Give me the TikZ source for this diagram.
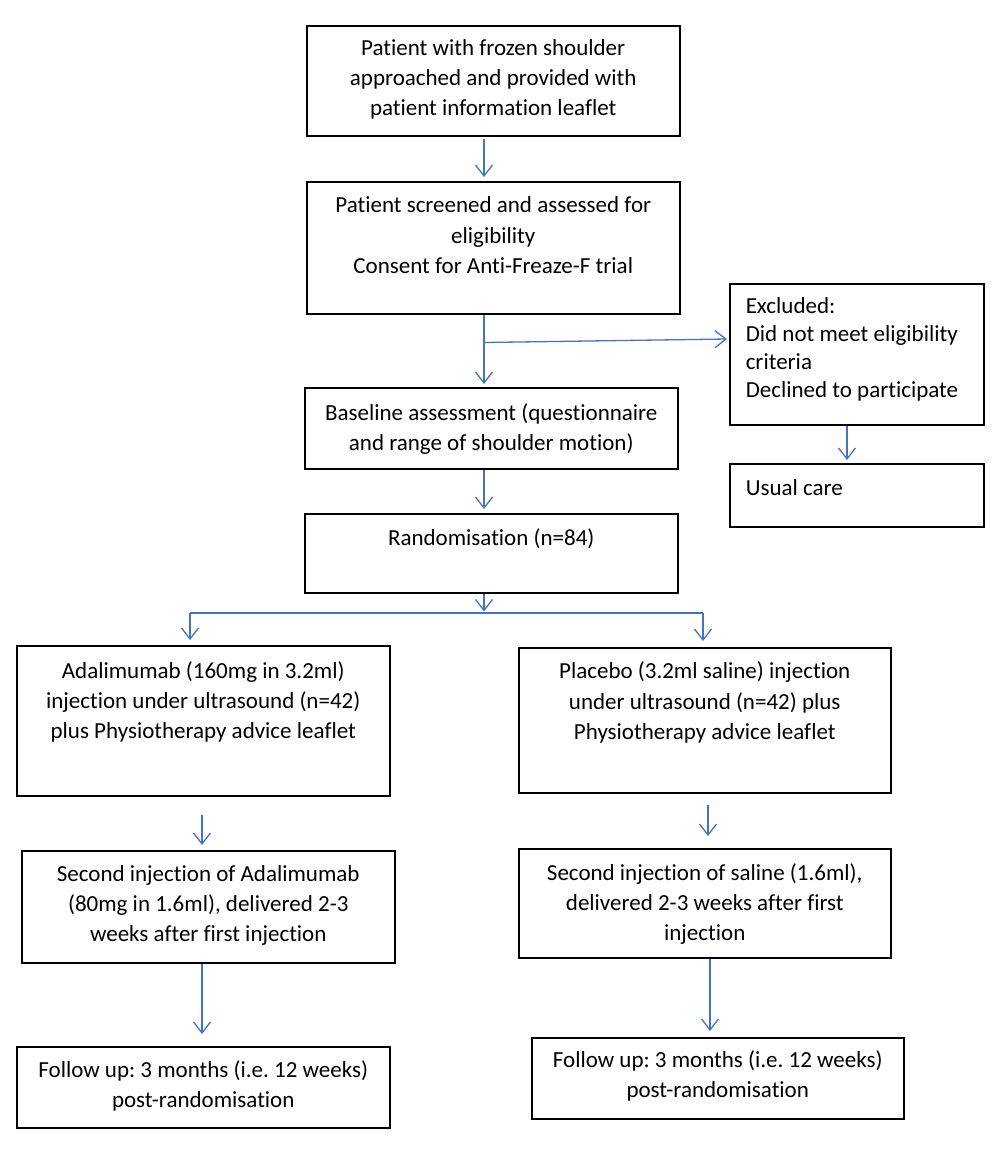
\documentclass[tikz,border=0pt]{standalone}
\usepackage{fontspec}
\setmainfont[Ligatures=NoCommon,RawFeature={-liga;-clig;-calt}]{Carlito}
\frenchspacing
\usetikzlibrary{arrows.meta,calc}
\definecolor{arrblue}{RGB}{68,114,196}
\newcommand{\ctrtext}[5]{\parbox[c][#2pt][t]{#1pt}{\fontsize{23}{#4}\selectfont\frenchspacing\centering\rule{0pt}{#3pt}#5}}
\newcommand{\lfttext}[5]{\parbox[c][#2pt][t]{#1pt}{\fontsize{23}{#4}\selectfont\frenchspacing\raggedright\leftskip=16pt\rule{0pt}{#3pt}#5}}
\tikzset{
  box/.style={draw=black, line width=1.5pt, inner sep=0pt, anchor=north west},
  arr/.style={draw=arrblue, line width=1.3pt, -{Straight Barb[length=11pt,width=17pt,line width=1.3pt]}},
  plain/.style={draw=arrblue, line width=1.3pt},
}
\begin{document}
\begin{tikzpicture}[x=1pt,y=-1pt]
\useasboundingbox (0,0) rectangle (1000,1152);
\node[box] (b1) at (306,25) {\ctrtext{373}{110}{30}{30}{Patient with frozen shoulder\\approached and provided with\\patient information leaflet}};
\node[box] (b2) at (306,181) {\ctrtext{373}{132}{31}{30.5}{Patient screened and assessed for\\eligibility\\Consent for Anti-Freaze-F trial}};
\node[box] (ex) at (729,283) {\lfttext{254}{141}{29.5}{28}{Excluded:\\Did not meet eligibility\\criteria\\Declined to participate}};
\node[box] (uc) at (729,463) {\lfttext{254}{63}{31.5}{28}{Usual care}};
\node[box] (b3) at (304,387) {\ctrtext{373}{81}{32.5}{30}{Baseline assessment (questionnaire\\and range of shoulder motion)}};
\node[box] (b4) at (304,513) {\ctrtext{373}{79}{31.5}{30}{Randomisation (n=84)}};
\node[box] (b5) at (16,645) {\ctrtext{373}{150}{32.5}{30}{Adalimumab (160mg in 3.2ml)\\injection under ultrasound (n=42)\\plus Physiotherapy advice leaflet}};
\node[box] (b6) at (518,647) {\ctrtext{372}{145}{31}{30.5}{Placebo (3.2ml saline) injection\\under ultrasound (n=42) plus\\Physiotherapy advice leaflet}};
\node[box] (b7) at (21,850) {\ctrtext{373}{112}{31}{30}{Second injection of Adalimumab\\(80mg in 1.6ml), delivered 2-3\\weeks after first injection}};
\node[box] (b8) at (518,848) {\ctrtext{372}{109}{31.5}{30}{Second injection of saline (1.6ml),\\delivered 2-3 weeks after first\\injection}};
\node[box] (b9) at (16,1046) {\ctrtext{373}{81}{31}{30}{Follow up: 3 months (i.e. 12 weeks)\\post-randomisation}};
\node[box] (b10) at (531,1037) {\ctrtext{372}{81}{30}{30}{Follow up: 3 months (i.e. 12 weeks)\\post-randomisation}};
% column coordinates for connectors
\coordinate (cM) at (484,0);
\coordinate (cE) at (847,0);
\coordinate (spL) at (190,613);
\coordinate (spR) at (703,613);
\coordinate (cL) at (202,0);
\coordinate (cR) at (708,0);
\coordinate (cR2) at (710,0);
% connectors
\draw[arr] ($(b1.south -| cM)+(0,2)$) -- ($(b2.north -| cM)+(0,-4)$);
\draw[arr] (b2.south -| cM) -- ($(b3.north -| cM)+(0,-3)$);
\draw[arr] ($(b2.south -| cM)+(0,28)$) -- ($(ex.north west)+(-2,56)$);
\draw[arr] (ex.south -| cE) -- ($(uc.north -| cE)+(0,-3)$);
\draw[arr] (b3.south -| cM) -- ($(b4.north -| cM)+(0,-4)$);
\draw[arr] (b4.south -| cM) -- ($(b4.south -| cM)+(0,18)$);
\draw[plain] (spL) -- (spR);
\draw[arr] (spL) -- ($(b5.north -| spL)+(0,-5)$);
\draw[arr] (spR) -- ($(b6.north -| spR)+(0,-6)$);
\draw[arr] ($(b5.south -| cL)+(0,18)$) -- ($(b7.north -| cL)+(0,-5)$);
\draw[arr] ($(b6.south -| cR)+(0,11)$) -- ($(b8.north -| cR)+(0,-12)$);
\draw[arr] (b7.south -| cL) -- ($(b9.north -| cL)+(0,-12)$);
\draw[arr] (b8.south -| cR2) -- ($(b10.north -| cR2)+(0,-6)$);
\end{tikzpicture}
\end{document}
